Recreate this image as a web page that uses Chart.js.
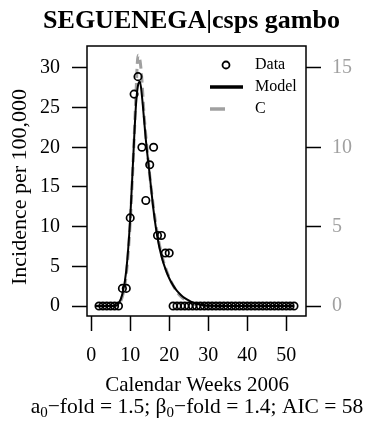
<!DOCTYPE html>
<html><head><meta charset="utf-8">
<script src="https://cdn.jsdelivr.net/npm/chart.js@4"></script>
<style>html,body{margin:0;padding:0;background:#fff}</style>
</head><body>
<canvas id="c" width="365" height="430" style="width:365px;height:430px;display:block"></canvas>
<script>
// ---- data ----
const titleText = "SEGUENEGA|csps gambo";
const yTitle = "Incidence per 100,000";
const xTitle = "Calendar Weeks 2006";
const legendLabels = ["Data", "Model", "C"];

const dataWeeks = [2,3,4,5,6,7,8,9,10,11,12,13,14,15,16,17,18,19,20,21,22,23,24,25,26,27,28,29,30,31,32,33,34,35,36,37,38,39,40,41,42,43,44,45,46,47,48,49,50,51,52];
const dataIncidence = [0,0,0,0,0,0,2.22,2.22,11.1,26.7,28.9,20.0,13.3,17.8,20.0,8.89,8.89,6.67,6.67,0,0,0,0,0,0,0,0,0,0,0,0,0,0,0,0,0,0,0,0,0,0,0,0,0,0,0,0,0,0,0,0];

const modelWeeks = [1,2,3,4,5,6,7,8,9,10,11,11.5,12,12.5,13,13.5,14,15,16,17,18,19,20,21,22,23,24,25,26,27,28,29,30,35,40,45,50,52];
const modelValues = [0,0,0,0,0,0,0.3,1.5,4.5,11,21,25.5,27.8,28.3,26.5,23.8,21,16.5,12,8.6,6.3,4.7,3.5,2.6,1.9,1.4,1.0,0.7,0.45,0.28,0.15,0.07,0.03,0,0,0,0,0];

// C is on the right (grey) axis
const cWeeks = [1,2,3,4,5,6,7,8,9,10,11,11.5,12,12.5,13,13.5,14,15,16,17,18,19,20,21,22,23,24,25,26,27,28,30,35,40,45,50,52];
const cValues = [0,0,0,0,0,0,0.1,0.6,2.0,5.25,10.5,13.5,15.8,15.5,14.25,12.25,10.75,8.25,6.15,4.5,3.3,2.45,1.8,1.3,0.9,0.6,0.4,0.25,0.15,0.08,0.04,0,0,0,0,0,0];

const xTicks = [0,10,20,30,40,50];
const yTicks = [0,5,10,15,20,25,30];
const y2Ticks = [0,5,10,15];

const SERIF = "'Liberation Serif', 'DejaVu Serif', serif";
const GREY = "#a0a0a0";

const pts = (xs, ys) => xs.map((x, i) => ({x: x, y: ys[i]}));

const overlay = {
  id: 'overlay',
  afterDraw(chart) {
    const ctx = chart.ctx, a = chart.chartArea;
    ctx.save();
    // box
    ctx.strokeStyle = '#000'; ctx.lineWidth = 1.5;
    ctx.strokeRect(a.left, a.top, a.right - a.left, a.bottom - a.top);
    // title
    ctx.fillStyle = '#000';
    ctx.font = "bold 26px " + SERIF;
    ctx.textAlign = 'center'; ctx.textBaseline = 'alphabetic';
    ctx.fillText(titleText, 191.5, 28);
    // x title
    ctx.font = "21px " + SERIF;
    ctx.fillText(xTitle, 197, 391);
    // subtitle with subscripts
    const parts = [
      {t: "a", s: 21.5, dy: 0}, {t: "0", s: 15, dy: 4},
      {t: "\u2212fold = 1.5; \u03B2", s: 21.5, dy: 0}, {t: "0", s: 15, dy: 4},
      {t: "\u2212fold = 1.4; AIC = 58", s: 21.5, dy: 0}
    ];
    let total = 0;
    parts.forEach(p => { ctx.font = p.s + "px " + SERIF; p.w = ctx.measureText(p.t).width; total += p.w; });
    let x = 197 - total / 2;
    ctx.textAlign = 'left';
    parts.forEach(p => { ctx.font = p.s + "px " + SERIF; ctx.fillText(p.t, x, 413 + p.dy); x += p.w; });
    // y title
    ctx.save();
    ctx.translate(26, 187); ctx.rotate(-Math.PI / 2);
    ctx.textAlign = 'center'; ctx.font = "22px " + SERIF;
    ctx.fillText(yTitle, 0, 0);
    ctx.restore();
    // legend
    const ly = [65, 87, 109];
    ctx.lineWidth = 1.8; ctx.strokeStyle = '#000';
    ctx.beginPath(); ctx.arc(226, ly[0], 3.5, 0, Math.PI * 2); ctx.stroke();
    ctx.lineWidth = 3.5; ctx.lineCap = 'butt';
    ctx.beginPath(); ctx.moveTo(210, ly[1]); ctx.lineTo(243, ly[1]); ctx.stroke();
    ctx.strokeStyle = GREY;
    ctx.beginPath(); ctx.moveTo(210, ly[2]); ctx.lineTo(225, ly[2]); ctx.stroke();
    ctx.font = "16px " + SERIF; ctx.textAlign = 'left'; ctx.textBaseline = 'middle';
    legendLabels.forEach((l, i) => ctx.fillText(l, 255, ly[i]));
    ctx.restore();
  }
};

const setTicks = arr => scale => { scale.ticks = arr.map(v => ({value: v})); };

new Chart(document.getElementById('c'), {
  type: 'scatter',
  data: {
    datasets: [
      { label: legendLabels[0], data: pts(dataWeeks, dataIncidence), yAxisID: 'y',
        pointStyle: 'circle', pointRadius: 3.7, pointBorderWidth: 1.7,
        borderColor: '#000', backgroundColor: 'rgba(0,0,0,0)', showLine: false },
      { label: legendLabels[1], data: pts(modelWeeks, modelValues), yAxisID: 'y',
        showLine: true, borderColor: '#000', borderWidth: 2, pointRadius: 0,
        cubicInterpolationMode: 'monotone', fill: false },
      { label: legendLabels[2], data: pts(cWeeks, cValues), yAxisID: 'y2',
        showLine: true, borderColor: GREY, borderWidth: 3, borderDash: [9, 5], pointRadius: 0,
        cubicInterpolationMode: 'monotone', fill: false }
    ]
  },
  options: {
    responsive: false, animation: false,
    layout: { padding: { top: 46, left: 0, right: 0, bottom: 0 } },
    plugins: { legend: { display: false }, tooltip: { enabled: false }, title: { display: false } },
    scales: {
      x: { type: 'linear', min: -1.08, max: 55.08,
        afterBuildTicks: setTicks(xTicks),
        afterFit: s => { s.height = 114; },
        border: { display: false },
        grid: { drawOnChartArea: false, drawTicks: true, tickLength: 15, tickWidth: 1.5, tickColor: '#000' },
        ticks: { color: '#000', font: { family: SERIF, size: 20 }, padding: 13, maxRotation: 0, autoSkip: false } },
      y: { type: 'linear', position: 'left', min: -1.26, max: 32.76,
        afterBuildTicks: setTicks(yTicks),
        afterFit: s => { s.width = 87; },
        border: { display: false },
        grid: { drawOnChartArea: false, drawTicks: true, tickLength: 15, tickWidth: 1.5, tickColor: '#000' },
        ticks: { color: '#000', font: { family: SERIF, size: 20 }, padding: 12, autoSkip: false } },
      y2: { type: 'linear', position: 'right', min: -0.63, max: 16.38,
        afterBuildTicks: setTicks(y2Ticks),
        afterFit: s => { s.width = 59; },
        border: { display: false },
        grid: { drawOnChartArea: false, drawTicks: true, tickLength: 15, tickWidth: 1.5, tickColor: '#000' },
        ticks: { color: GREY, font: { family: SERIF, size: 20 }, padding: 11, autoSkip: false } }
    }
  },
  plugins: [overlay]
});
</script>
</body></html>
